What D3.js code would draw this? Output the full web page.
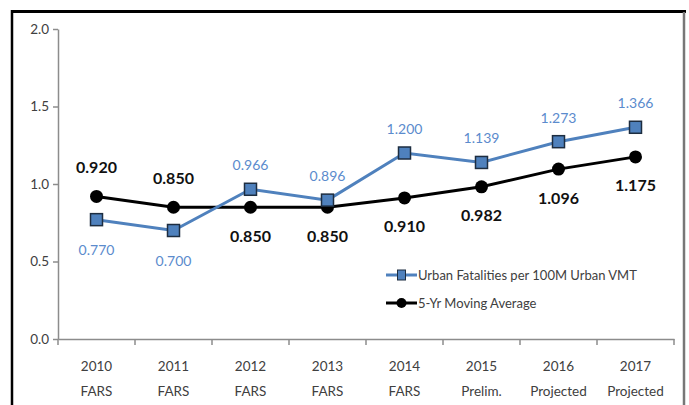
<!DOCTYPE html>
<html lang="en">
<head>
<meta charset="utf-8"/>
<title>Urban Fatalities per 100M Urban VMT</title>
<script src="https://d3js.org/d3.v7.min.js"></script>
<style>
	body { margin: 0; background: #fff; }
	svg text { font-family: Lato, "Open Sans", sans-serif; }
	.axis .domain, .axis line { stroke: #8c8c8c; stroke-width: 1.5px; }
	.axis text { fill: #404040; font-size: 13.5px; font-family: Lato, sans-serif; }
</style>
</head>
<body>
<svg id="chart" width="689" height="405"></svg>
<script>
// data
var years = ["2010", "2011", "2012", "2013", "2014", "2015", "2016", "2017"];
var sources = ["FARS", "FARS", "FARS", "FARS", "FARS", "Prelim.", "Projected", "Projected"];
var urbanRate = [0.770, 0.700, 0.966, 0.896, 1.200, 1.139, 1.273, 1.366];
var movingAvg = [0.920, 0.850, 0.850, 0.850, 0.910, 0.982, 1.096, 1.175];
var yTicks = [0, 0.5, 1.0, 1.5, 2.0];
// label above (-1) or below (1) the point
var urbanSide = [1, 1, -1, -1, -1, -1, -1, -1];
var avgSide = [-1, -1, 1, 1, 1, 1, 1, 1];
var seriesNames = ["Urban Fatalities per 100M Urban VMT", "5-Yr Moving Average"];

var svg = d3.select("#chart");
var blue = "#4f81bd";

// outer frame
svg.append("line").attr("x1", 12).attr("x2", 686).attr("y1", 11.5).attr("y2", 11.5)
	.attr("stroke", "#000").attr("stroke-width", 3);
svg.append("line").attr("x1", 12).attr("x2", 12).attr("y1", 10).attr("y2", 405)
	.attr("stroke", "#000").attr("stroke-width", 2.5);
svg.append("line").attr("x1", 684).attr("x2", 684).attr("y1", 12).attr("y2", 405)
	.attr("stroke", "#777").attr("stroke-width", 2.5);

var x = d3.scaleBand().domain(years).range([58, 674]);
var y = d3.scaleLinear().domain([0, 2]).range([339, 29]);
var cx = function(i) { return x(years[i]) + x.bandwidth() / 2; };

// y axis
var yAxis = svg.append("g").attr("class", "axis")
	.attr("transform", "translate(58,0)")
	.call(d3.axisLeft(y).tickValues(yTicks).tickFormat(d3.format(".1f")).tickSize(5).tickSizeOuter(0));
yAxis.selectAll("text").attr("dx", "-1");

// x axis
var xAxis = svg.append("g").attr("class", "axis")
	.attr("transform", "translate(0,339)")
	.call(d3.axisBottom(x).tickSize(0).tickSizeOuter(0).tickFormat(""));
xAxis.selectAll(".sep")
	.data(d3.range(years.length + 1))
	.enter().append("line")
	.attr("class", "sep")
	.attr("x1", function(i) { return 58 + i * x.bandwidth(); })
	.attr("x2", function(i) { return 58 + i * x.bandwidth(); })
	.attr("y1", 0).attr("y2", 6);

var cat = svg.append("g").attr("class", "axis");
years.forEach(function(yr, i) {
	var t = cat.append("text").attr("text-anchor", "middle").attr("x", cx(i));
	t.append("tspan").attr("x", cx(i)).attr("y", 371).text(yr);
	t.append("tspan").attr("x", cx(i)).attr("y", 396).text(sources[i]);
});

var line = d3.line()
	.x(function(d, i) { return cx(i); })
	.y(function(d) { return y(d); });

// moving average (black)
svg.append("path").datum(movingAvg)
	.attr("d", line).attr("fill", "none")
	.attr("stroke", "#000").attr("stroke-width", 3);
svg.selectAll(".dot").data(movingAvg).enter().append("circle")
	.attr("class", "dot")
	.attr("cx", function(d, i) { return cx(i); })
	.attr("cy", function(d) { return y(d); })
	.attr("r", 6.5).attr("fill", "#000");

// urban rate (blue)
svg.append("path").datum(urbanRate)
	.attr("d", line).attr("fill", "none")
	.attr("stroke", blue).attr("stroke-width", 3);
svg.selectAll(".sq").data(urbanRate).enter().append("rect")
	.attr("class", "sq")
	.attr("x", function(d, i) { return cx(i) - 6; })
	.attr("y", function(d) { return y(d) - 6; })
	.attr("width", 12).attr("height", 12)
	.attr("fill", blue).attr("stroke", "#1d2d40").attr("stroke-width", 1.5);

var fmt = d3.format(".3f");
svg.selectAll(".ulab").data(urbanRate).enter().append("text")
	.attr("class", "ulab")
	.attr("x", function(d, i) { return cx(i); })
	.attr("y", function(d, i) { return y(d) + (urbanSide[i] < 0 ? -19 : 35); })
	.attr("text-anchor", "middle")
	.attr("fill", "#5b8bcd").attr("font-size", "14px")
	.text(fmt);

svg.selectAll(".alab").data(movingAvg).enter().append("text")
	.attr("class", "alab")
	.attr("x", function(d, i) { return cx(i); })
	.attr("y", function(d, i) { return y(d) + (avgSide[i] < 0 ? -23.5 : 34.5); })
	.attr("text-anchor", "middle")
	.attr("fill", "#111").attr("font-size", "16px").attr("font-weight", "bold")
	.text(fmt);

// legend
var legend = svg.append("g").attr("transform", "translate(386,275)");
var items = legend.selectAll("g").data(seriesNames).enter().append("g")
	.attr("transform", function(d, i) { return "translate(0," + i * 28 + ")"; });
items.append("line").attr("x1", 0).attr("x2", 31).attr("y1", 0).attr("y2", 0)
	.attr("stroke", function(d, i) { return i ? "#000" : blue; })
	.attr("stroke-width", 3);
items.filter(function(d, i) { return i === 0; }).append("rect")
	.attr("x", 11.5).attr("y", -5).attr("width", 8).attr("height", 10)
	.attr("fill", blue).attr("stroke", "#1d2d40").attr("stroke-width", 1);
items.filter(function(d, i) { return i === 1; }).append("circle")
	.attr("cx", 15.5).attr("cy", 0).attr("r", 5).attr("fill", "#000");
items.append("text").attr("x", 32).attr("y", 0).attr("dy", "0.35em")
	.attr("fill", "#404040").attr("font-size", "13px")
	.text(function(d) { return d; });
</script>
</body>
</html>
